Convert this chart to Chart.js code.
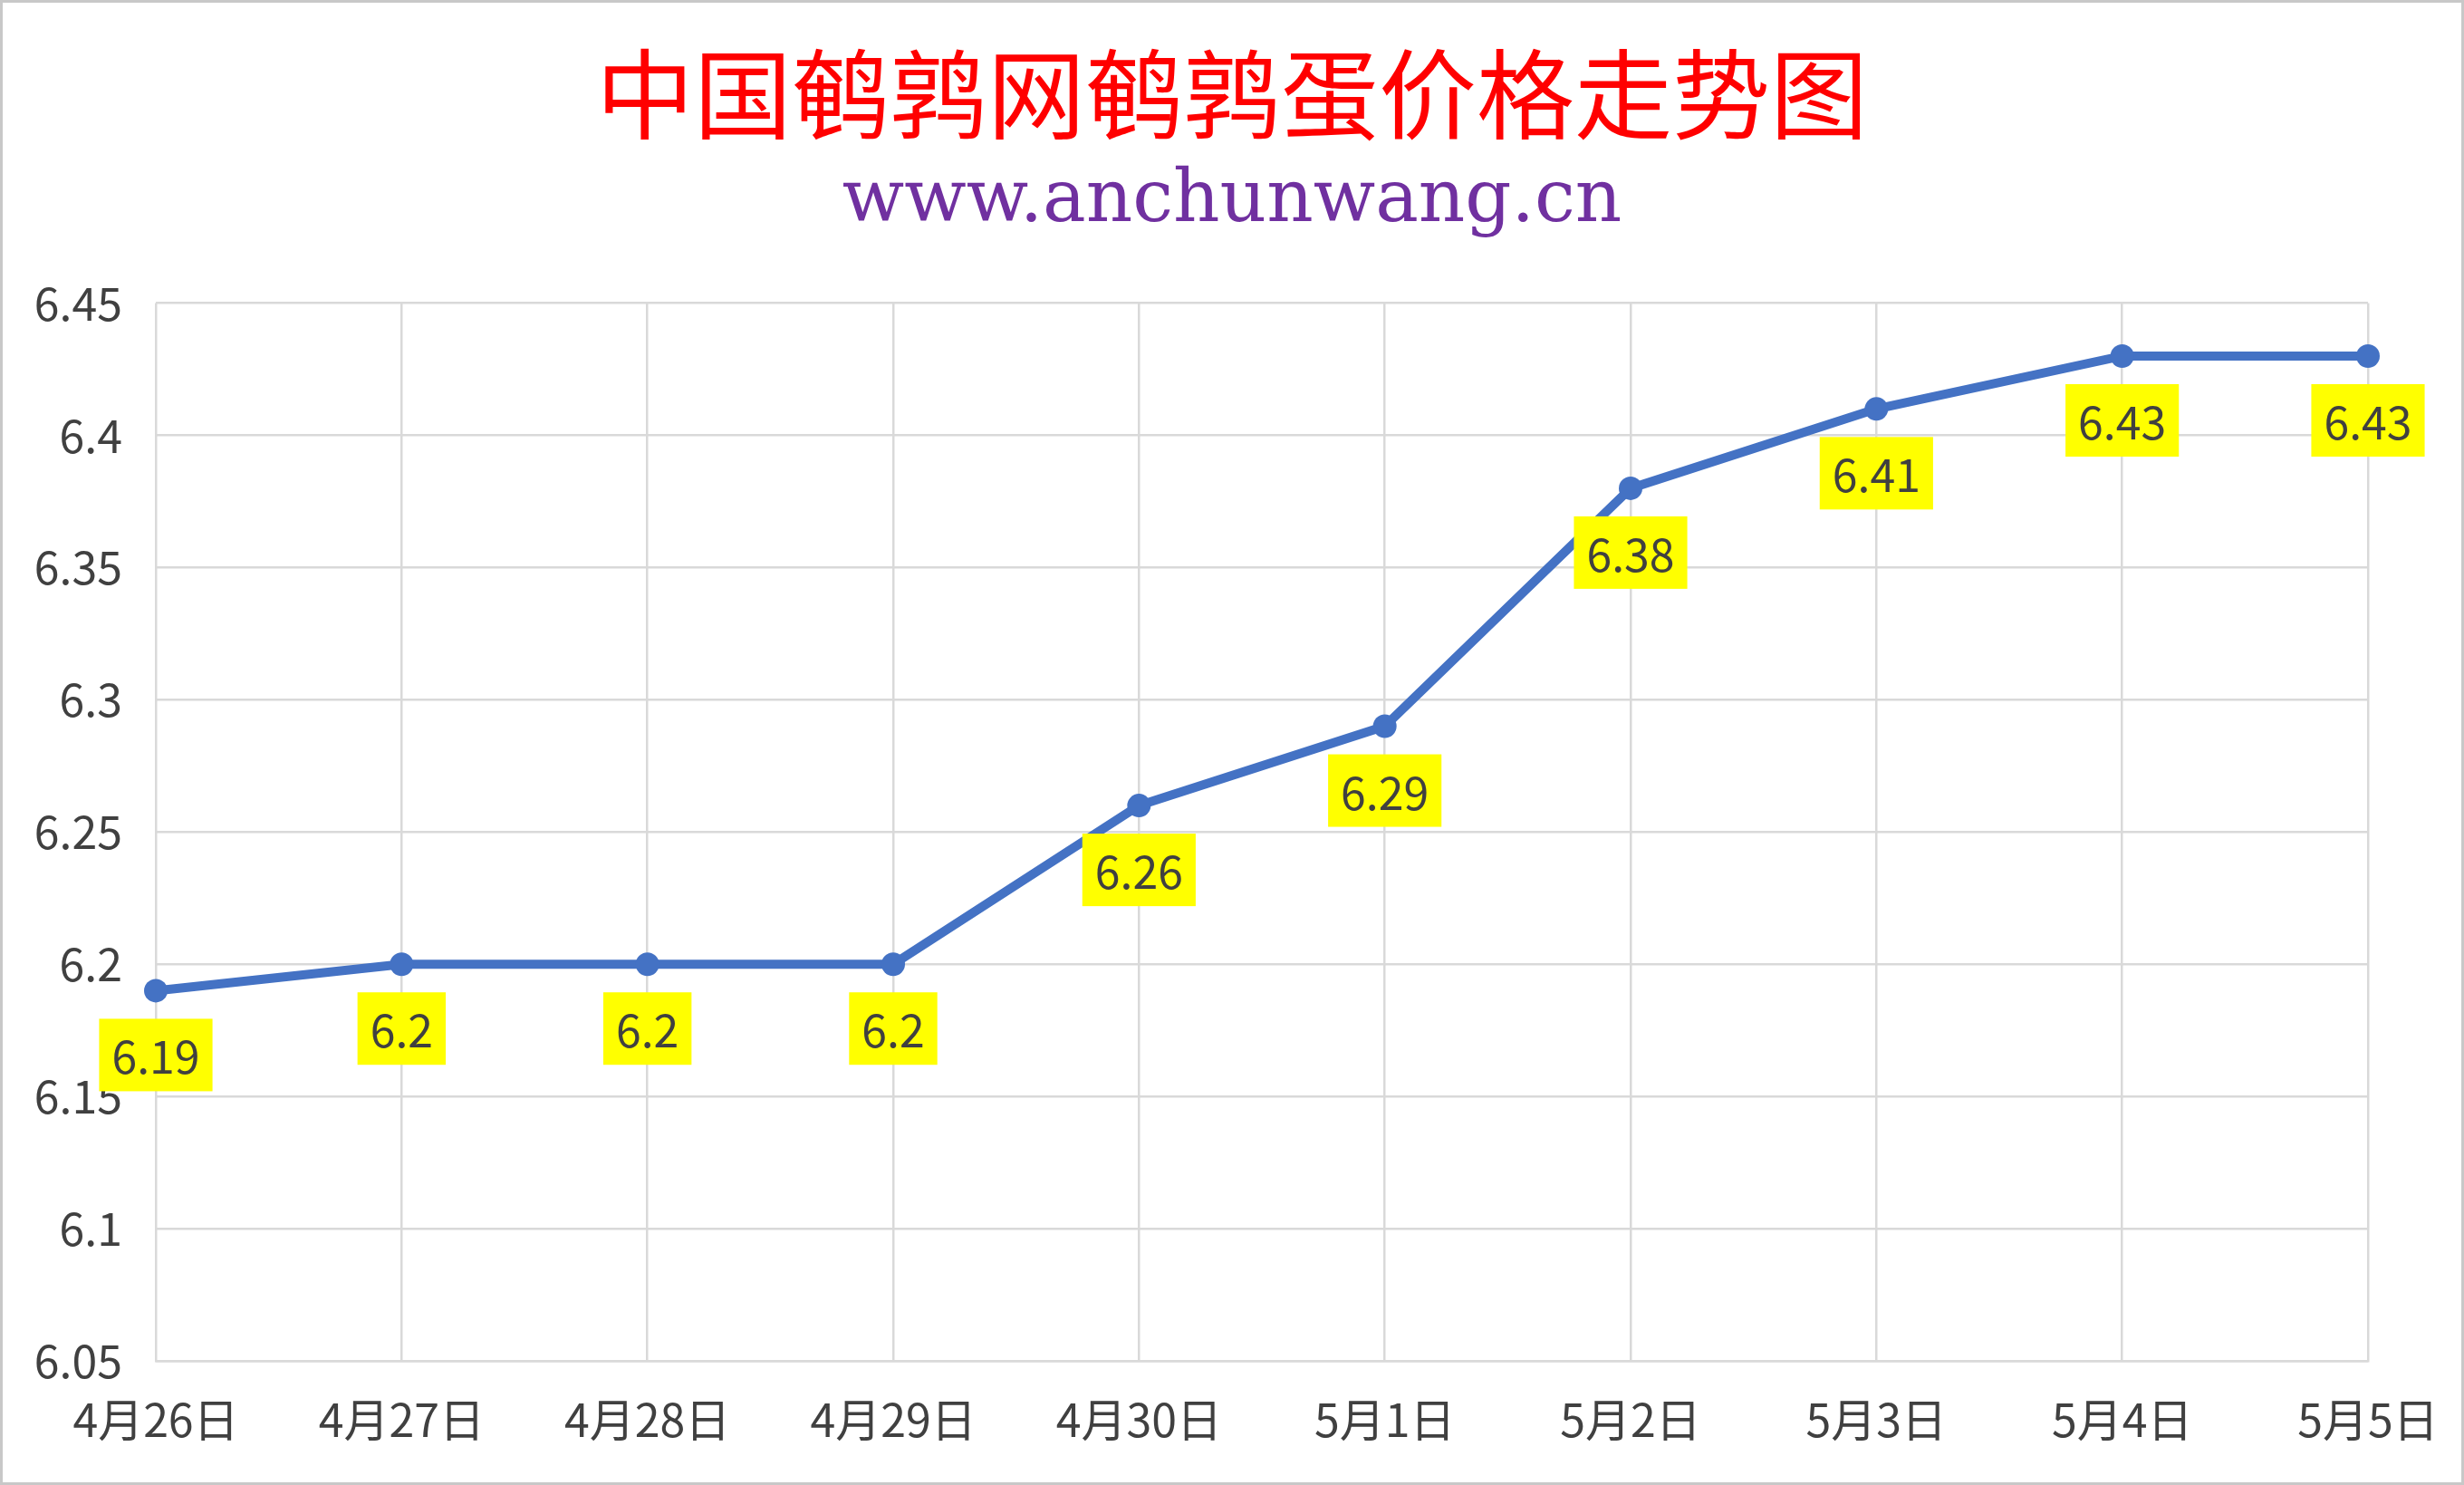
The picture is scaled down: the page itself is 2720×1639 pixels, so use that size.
<!DOCTYPE html>
<html>
<head>
<meta charset="utf-8">
<script src="https://cdn.jsdelivr.net/npm/chart.js@4/dist/chart.umd.min.js"></script>
<style>
  html, body { margin: 0; padding: 0; background: #fff; }
  #frame {
    position: absolute; left: 0; top: 0;
    width: 2720px; height: 1639px;
    box-sizing: border-box;
    border: 3px solid #c8c8c8;
    background: #fff;
  }
  #box { position: relative; width: 2714px; height: 1633px; }
</style>
</head>
<body>
<div id="frame"><div id="box"><canvas id="priceChart"></canvas></div></div>
<script>
const titleText = '中国鹌鹑网鹌鹑蛋价格走势图';
const subtitleText = 'www.anchunwang.cn';
const dates = ['4月26日', '4月27日', '4月28日', '4月29日', '4月30日', '5月1日', '5月2日', '5月3日', '5月4日', '5月5日'];
const prices = [6.19, 6.2, 6.2, 6.2, 6.26, 6.29, 6.38, 6.41, 6.43, 6.43];
const yMin = 6.05;
const yMax = 6.45;
const yStep = 0.05;

const cjkFont = '"Noto Sans CJK SC", "Noto Sans", sans-serif';

// yellow boxes under each point, like the Excel data labels
const valueLabels = {
  id: 'valueLabels',
  afterDatasetsDraw(chart) {
    const ctx = chart.ctx;
    const meta = chart.getDatasetMeta(0);
    ctx.save();
    ctx.font = '50px ' + cjkFont;
    ctx.textAlign = 'center';
    ctx.textBaseline = 'middle';
    meta.data.forEach((pt, i) => {
      const txt = String(prices[i]);
      const w = ctx.measureText(txt).width + 28;
      const h = 80;
      const cy = pt.y + 71;
      ctx.fillStyle = '#ffff00';
      ctx.fillRect(pt.x - w / 2, cy - h / 2, w, h);
      ctx.fillStyle = '#404040';
      ctx.fillText(txt, pt.x, cy + 2);
    });
    ctx.restore();
  }
};

const initChart = () => {
  const canvas = document.getElementById('priceChart');
  if (!canvas || typeof window.Chart === 'undefined') {
    return;
  }

  new Chart(canvas, {
    type: 'line',
    data: {
      labels: dates,
      datasets: [
        {
          data: prices,
          borderColor: '#4472c4',
          backgroundColor: '#4472c4',
          borderWidth: 10,
          pointRadius: 13,
          pointHoverRadius: 13,
          pointBorderWidth: 0,
          tension: 0
        }
      ]
    },
    options: {
      responsive: true,
      maintainAspectRatio: false,
      animation: false,
      layout: { padding: 0 },
      scales: {
        x: {
          offset: false,
          grid: { color: '#d9d9d9', lineWidth: 2.5, drawTicks: false },
          border: { color: '#d9d9d9', width: 2.5 },
          ticks: {
            color: '#404040',
            padding: 35,
            maxRotation: 0,
            font: { family: cjkFont, size: 50 }
          },
          afterFit: (s) => {
            s.height = 134;
            // keep the plot's right edge where the reference has it
            s.paddingRight = 103;
          }
        },
        y: {
          min: yMin,
          max: yMax,
          grid: { color: '#d9d9d9', lineWidth: 2.5, drawTicks: false },
          border: { display: false },
          ticks: {
            stepSize: yStep,
            color: '#404040',
            padding: 37,
            font: { family: cjkFont, size: 50 },
            callback: (v) => String(Number(v.toFixed(2)))
          },
          afterFit: (s) => { s.width = 169; }
        }
      },
      plugins: {
        legend: { display: false },
        tooltip: { enabled: false },
        title: {
          display: true,
          text: titleText,
          color: '#ff0000',
          font: { family: cjkFont, size: 108, weight: 'normal', lineHeight: 1.2 },
          padding: { top: 36, bottom: 0 }
        },
        subtitle: {
          display: true,
          text: subtitleText,
          color: '#7030a0',
          font: { family: '"DejaVu Serif", serif', size: 80, lineHeight: 1.2 },
          padding: { top: 7, bottom: 63 }
        }
      }
    },
    plugins: [valueLabels]
  });
};

document.addEventListener('DOMContentLoaded', initChart);
</script>
</body>
</html>
